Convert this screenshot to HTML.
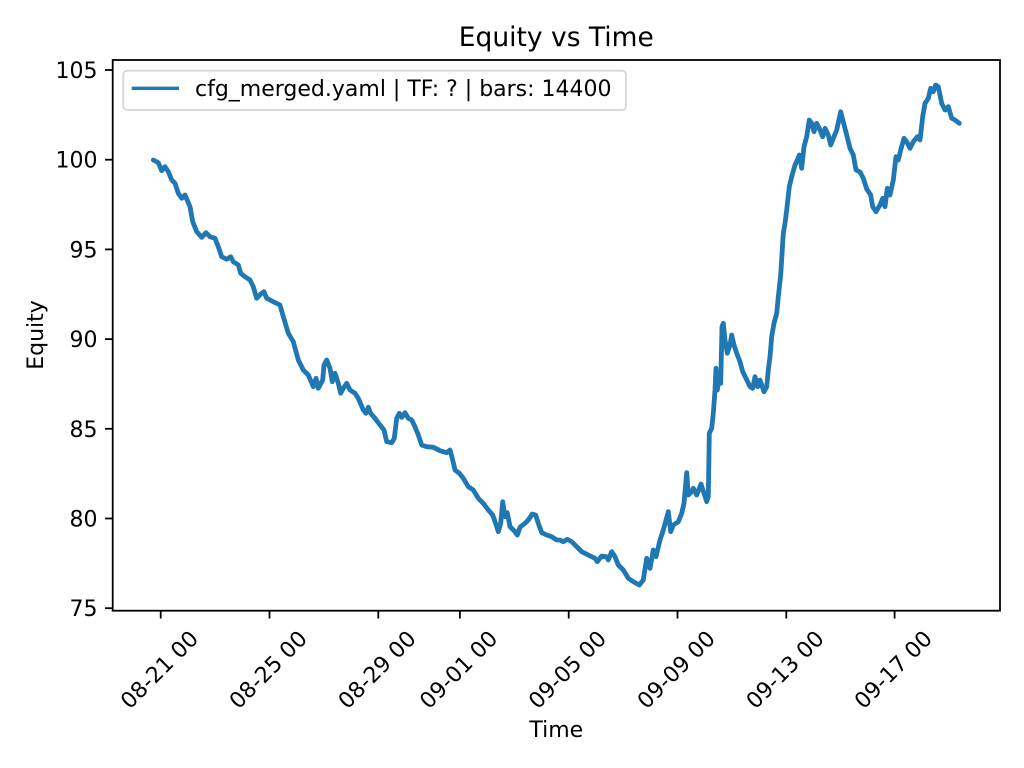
<!DOCTYPE html>
<html>
<head>
<meta charset="utf-8">
<style>
html,body{margin:0;padding:0;background:#fff;}
svg{display:block;}
text{font-family:"DejaVu Sans","Liberation Sans",sans-serif;fill:#000;}
</style>
</head>
<body>
<svg width="1024" height="768" viewBox="0 0 1024 768" xmlns="http://www.w3.org/2000/svg">
<rect x="0" y="0" width="1024" height="768" fill="#fff"/>

<!-- series -->
<polyline fill="none" stroke="#1f77b4" stroke-width="4.8" stroke-linejoin="round" stroke-linecap="round" points="
153.3,160 158.3,162.7 161.7,170.7 165,166.7 168.3,171.7 171.7,180 175,183.3 178.3,193.3 181.7,198.3 185,195 190,206.7 192.7,221.7 196.7,231.7 201.7,237.3 206,232.7 210,236.7 215,238.3 218.3,246.7 221.7,256.7 226.7,259.3 230.7,256.7 233.3,261.7 238.3,265 240.7,273.3 245,276.7 250,280 253.3,286.7 256.7,298.3 260.7,294 264,291.7 266.7,298.3 273.3,301.7 280,305 283.3,316.7 288.3,333.3 293.3,341.7 298.3,360 303.3,370 308.3,375 313.3,386.7 316,378.3 318.3,388.3 322.7,380 324,365 326.7,360 330,368.3 332.3,381.7 335,373.3 338.3,383.3 340.7,393.3 343.3,388.3 346.7,383.3 350,390 355,393.3 358.3,398.3 363.3,410 366,413.3 368.3,407.3 370.7,413.3 375,418.3 380,425 384,430 386.7,441.7 391.7,442.7 394.3,438.3 396.7,418.3 399.3,413.3 401.7,417.3 405,412.7 408.3,418.3 411.7,420 415,426.7 418.3,435 421.7,445 426.7,446.7 433.3,447.3 440,450.7 446.7,452.7 450,450 452.7,460 455,470 459.3,473.3 463.3,478.3 468.3,486.7 473.3,490 478.3,498.3 483.3,503.3 488.3,510 492.7,515 496.7,526.7 498.3,531.7 500.7,523.3 502.7,501.7 505,516.7 507.3,512.7 510,526.7 511.7,528.3 515,531.7 517.3,535 520,527.3 525,523.3 528.3,520 532.3,514 535.7,515 538.3,523.3 541.7,532.7 546.7,535 551.7,536.7 556.7,540 560,540 563.3,541.7 567.3,539.3 571.7,541.7 576.7,546.7 581.7,551.7 588.3,555 595,558.3 597.3,561.7 601.7,556 606.7,556.7 608.3,560 611.7,551.7 615,556.7 618.3,565 623.3,570 628.3,578.3 633.3,581.7 639.3,585 643.3,580 646.7,558.3 650,568.3 653.3,550 656,556.7 660,540 663.3,530 668.3,511.7 670.7,531.7 673.3,525 678.3,521.7 681.7,513.3 684,503.3 686.7,472.7 688.3,495 691.7,491.7 693.3,488.3 696.7,495 701,484 704,493.3 706.7,501.7 708.3,496.7 709.3,433.3 711.7,428.3 713.3,413.3 715,390 716,368.3 717.3,390 719.3,376.7 720.7,383.3 722,326.7 723.3,323.3 725,340 727.3,353.3 730,345 731.7,335 734,345 736.7,353.3 740,361.7 742.7,371.7 746,378.3 750,386.7 752.7,388.3 755,376.7 757.7,386.7 760,380 764,391.7 766.7,386.7 768.3,370 770,356.7 771.7,336.7 774,323.3 776.7,313.3 778.3,296.7 780.7,275 783.3,233.3 785,223.3 786.7,210 789.3,186.7 791.7,176.7 795,165 797.3,160 799.3,155 801.7,168.3 804,146.7 806.7,136.7 809.3,120 811.7,123.3 814,131.7 816.7,123.3 819.3,128.3 822.7,136.7 825,128.3 828.3,135 830.7,145 833.3,138.3 836.7,130 840.7,111.7 843.3,122 846.7,135 850,148.3 853.3,155 856,170 860,172 863.3,178.3 866.7,189 870.7,195 872.7,206.7 876,211.7 880,205 882.7,198.3 885,206.7 887.3,188.3 890,195 893.3,180 896,156.7 898.3,160 900.7,150 904,138.3 906.7,141.7 910,148.3 913.3,141.7 917.3,136.7 920,140 922.7,116.7 925,103.3 928.3,98.3 930.7,88.3 933.3,91.7 935.7,85 938.3,86.7 941.7,103.3 945,110 948.3,106.7 951.7,118.3 955,120 959.3,123.3"/>

<!-- axes frame -->
<rect x="112.7" y="60" width="887.3" height="550.7" fill="none" stroke="#000" stroke-width="1.8"/>

<!-- y ticks -->
<g stroke="#000" stroke-width="1.8">
<line x1="105" y1="70" x2="112.7" y2="70"/>
<line x1="105" y1="159.7" x2="112.7" y2="159.7"/>
<line x1="105" y1="249.4" x2="112.7" y2="249.4"/>
<line x1="105" y1="339.1" x2="112.7" y2="339.1"/>
<line x1="105" y1="428.8" x2="112.7" y2="428.8"/>
<line x1="105" y1="518.5" x2="112.7" y2="518.5"/>
<line x1="105" y1="608.2" x2="112.7" y2="608.2"/>
</g>
<g font-size="22" text-anchor="end">
<text x="97.5" y="78">105</text>
<text x="97.5" y="167.7">100</text>
<text x="97.5" y="257.4">95</text>
<text x="97.5" y="347.1">90</text>
<text x="97.5" y="436.8">85</text>
<text x="97.5" y="526.5">80</text>
<text x="97.5" y="616.2">75</text>
</g>

<!-- x ticks -->
<g stroke="#000" stroke-width="1.8">
<line x1="160.7" y1="610.7" x2="160.7" y2="618.5"/>
<line x1="269.5" y1="610.7" x2="269.5" y2="618.5"/>
<line x1="378.3" y1="610.7" x2="378.3" y2="618.5"/>
<line x1="459.9" y1="610.7" x2="459.9" y2="618.5"/>
<line x1="568.7" y1="610.7" x2="568.7" y2="618.5"/>
<line x1="677.5" y1="610.7" x2="677.5" y2="618.5"/>
<line x1="786.3" y1="610.7" x2="786.3" y2="618.5"/>
<line x1="894.6" y1="610.7" x2="894.6" y2="618.5"/>
</g>
<g font-size="22" text-anchor="middle">
<text transform="translate(164.7,675) rotate(-45)">08-21 00</text>
<text transform="translate(273.5,675) rotate(-45)">08-25 00</text>
<text transform="translate(382.3,675) rotate(-45)">08-29 00</text>
<text transform="translate(463.9,675) rotate(-45)">09-01 00</text>
<text transform="translate(572.7,675) rotate(-45)">09-05 00</text>
<text transform="translate(681.5,675) rotate(-45)">09-09 00</text>
<text transform="translate(790.3,675) rotate(-45)">09-13 00</text>
<text transform="translate(898.6,675) rotate(-45)">09-17 00</text>
</g>

<!-- axis labels & title -->
<text x="556.3" y="737" font-size="22" text-anchor="middle">Time</text>
<text transform="translate(43,335) rotate(-90)" font-size="22" text-anchor="middle">Equity</text>
<text x="556.3" y="46" font-size="26.5" text-anchor="middle">Equity vs Time</text>

<!-- legend -->
<rect x="123.3" y="70.7" width="502.7" height="39.3" rx="4" ry="4" fill="#fff" fill-opacity="0.8" stroke="#d6d6d6" stroke-width="1.8"/>
<line x1="131.7" y1="88.3" x2="179" y2="88.3" stroke="#1f77b4" stroke-width="3.3"/>
<text x="195" y="96" font-size="22">cfg_merged.yaml | TF: ? | bars: 14400</text>
</svg>
</body>
</html>
